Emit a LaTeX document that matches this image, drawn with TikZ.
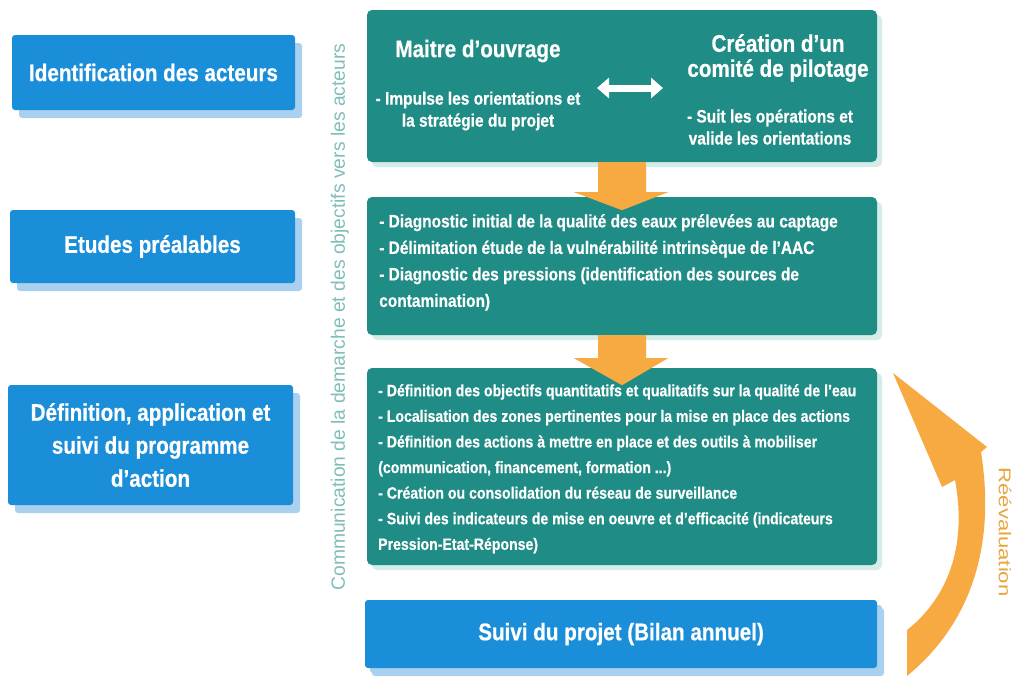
\documentclass[tikz,border=0pt]{standalone}
\usepackage{fontspec}
\setmainfont{Liberation Sans}
\newfontfamily\bfc{Liberation Sans}[FakeStretch=0.86,BoldFeatures={FakeBold=0.6}]
\newfontfamily\rfc{Liberation Sans}[FakeStretch=1.3]
\usetikzlibrary{calc,shadows,arrows.meta}
\definecolor{bluebox}{HTML}{1A8ED8}
\definecolor{blueshadow}{HTML}{A9D0EE}
\definecolor{greenbox}{HTML}{1F8C85}
\definecolor{greenshadow}{HTML}{D6ECE9}
\definecolor{orangeA}{HTML}{F7AA42}
\definecolor{vtext}{HTML}{80BEBA}
\definecolor{rtext}{HTML}{E9A43C}
\begin{document}
\begin{tikzpicture}[x=1pt,y=-1pt,
  lbox/.style={fill=bluebox, rounded corners=3pt, inner sep=0pt, align=center,
    text=white, font=\bfc\bfseries\fontsize{24}{33}\selectfont,
    drop shadow={shadow xshift=7pt,shadow yshift=-8pt,fill=blueshadow,opacity=1}},
  gbox/.style={fill=greenbox, rounded corners=5pt, inner sep=0pt,
    drop shadow={shadow xshift=5pt,shadow yshift=-5pt,fill=greenshadow,opacity=1}},
  ghead/.style={text=white, inner sep=0pt, align=center,
    font=\bfc\bfseries\fontsize{24}{25}\selectfont},
  gbody/.style={text=white, inner sep=0pt, align=center,
    font=\bfc\bfseries\fontsize{18}{22}\selectfont},
  glist/.style={text=white, inner sep=0pt, align=left, anchor=north west},
  flowarrow/.style={fill=orangeA},
]
\useasboundingbox (0,0) rectangle (1016,678);
\fill[white] (0,0) rectangle (1016,678);

% left stage boxes
\node[lbox, minimum width=283pt, minimum height=75pt] (l1) at (153.5,72.5) {Identification des acteurs};
\node[lbox, minimum width=285pt, minimum height=73pt] (l2) at (152.5,246.5) {Etudes préalables};
\node[lbox, minimum width=285pt, minimum height=120pt] (l3) at (150.5,445) {Définition, application et\\suivi du programme\\d’action};

% vertical text
\node[rotate=90, text=vtext, inner sep=0pt, font=\fontsize{19.3}{20}\selectfont] (comm) at (340,317) {Communication de la demarche et des objectifs vers les acteurs};

% green boxes
\node[gbox, minimum width=510pt, minimum height=152pt] (g1) at (622,86) {};
\node[gbox, minimum width=510pt, minimum height=138pt] (g2) at (622,266) {};
\node[gbox, minimum width=510pt, minimum height=197pt] (g3) at (622,466.5) {};
\node[lbox, minimum width=512pt, minimum height=68pt,
  drop shadow={shadow xshift=5pt,shadow yshift=-5pt,fill=blueshadow,opacity=1}] (b4) at (621,634) {Suivi du projet (Bilan annuel)};

% box 1 content
\node[ghead] (mo) at (478,51) {Maitre d’ouvrage};
\node[ghead] (cp) at (778,58) {Création d’un\\comité de pilotage};
\node[gbody] (mot) at (478,111) {- Impulse les orientations et\\la stratégie du projet};
\node[gbody] (cpt) at (770,127) {- Suit les opérations et\\valide les orientations};
\coordinate (da1) at (597,88);
\coordinate (da2) at (663,88);
\draw[white, line width=7pt, {Triangle[length=12pt,width=20pt]}-{Triangle[length=12pt,width=20pt]}] (da1) -- (da2);

% box 2 content
\node[glist, font=\bfc\bfseries\fontsize{18}{26.5}\selectfont] (g2t) at (379,214) {- Diagnostic initial de la qualité des eaux prélevées au captage\\- Délimitation étude de la vulnérabilité intrinsèque de l’AAC\\- Diagnostic des pressions (identification des sources de\\contamination)};

% box 3 content
\node[glist, font=\bfc\bfseries\fontsize{16.4}{25.6}\selectfont] (g3t) at (378,384) {- Définition des objectifs quantitatifs et qualitatifs sur la qualité de l’eau\\- Localisation des zones pertinentes pour la mise en place des actions\\- Définition des actions à mettre en place et des outils à mobiliser\\(communication, financement, formation ...)\\- Création ou consolidation du réseau de surveillance\\- Suivi des indicateurs de mise en oeuvre et d’efficacité (indicateurs\\Pression-Etat-Réponse)};

% flow arrows
\fill[flowarrow] ($(g1.south)+(-24,0)$) -- ($(g1.south)+(24,0)$) -- ($(g1.south)+(24,30)$) -- ($(g1.south)+(46,30)$) -- ($(g1.south)+(0,48)$) -- ($(g1.south)+(-48,30)$) -- ($(g1.south)+(-24,30)$) -- cycle;
\fill[flowarrow] ($(g2.south)+(-24,0)$) -- ($(g2.south)+(24,0)$) -- ($(g2.south)+(24,23)$) -- ($(g2.south)+(46,23)$) -- ($(g2.south)+(0,50)$) -- ($(g2.south)+(-48,23)$) -- ($(g2.south)+(-24,23)$) -- cycle;

% curved re-evaluation arrow
\fill[orangeA] (907,676) -- (907,630) .. controls (945,600) and (968,550) .. (955,480) -- (942,487) -- (893,373) -- (987,447) -- (981,452) .. controls (995,540) and (975,620) .. (907,676) -- cycle;
\node[rotate=-90, text=rtext, inner sep=0pt, font=\rfc\fontsize{17}{18}\selectfont] (reev) at (1005,532) {Réévaluation};
\end{tikzpicture}
\end{document}
